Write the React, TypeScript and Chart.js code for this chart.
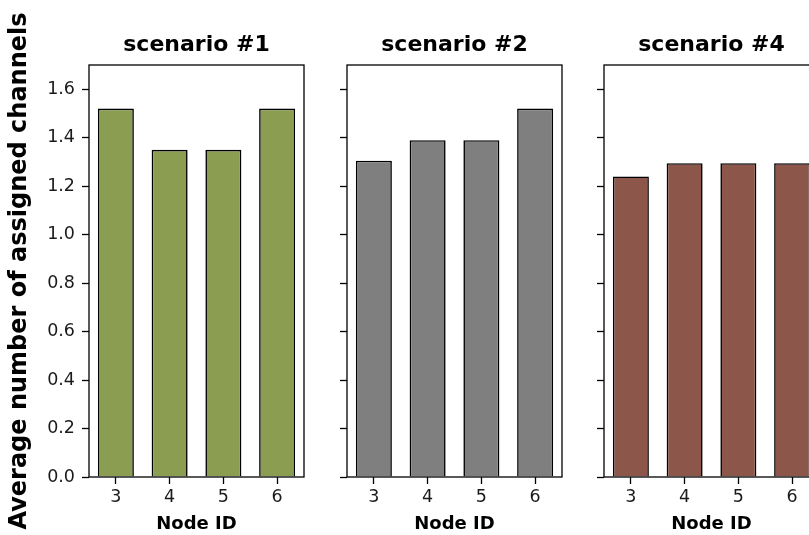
import React, { useEffect, useRef } from "react";
import { Chart, registerables } from "chart.js";

Chart.register(...registerables);

const nodeIds = ["3", "4", "5", "6"];
const scenarioTitles = ["scenario #1", "scenario #2", "scenario #4"];
const scenario1 = [1.52, 1.35, 1.35, 1.52];
const scenario2 = [1.305, 1.39, 1.39, 1.52];
const scenario4 = [1.24, 1.295, 1.295, 1.295];
const barColors = ["#8b9d50", "#7f7f7f", "#8c564b"];
const yMin = 0;
const yMax = 1.7;
const yStep = 0.2;
const yLastTick = 1.6;
const yLabel = "Average number of assigned channels";
const xLabel = "Node ID";

const FONT = "'DejaVu Sans', sans-serif";
const PLOT_TOP = 65;
const PLOT_BOTTOM = 477;
const CANVAS_H = 535;
const FRAME_W = 215;
const FRAME_LEFTS = [89, 347, 604];
const TITLE_Y = 45;

const framePlugin = {
  id: "frameBox",
  afterDatasetsDraw(chart: any) {
    const { ctx, chartArea } = chart;
    ctx.save();
    ctx.strokeStyle = "#000";
    ctx.lineWidth = 1.3;
    ctx.strokeRect(chartArea.left, chartArea.top, chartArea.right - chartArea.left, chartArea.bottom - chartArea.top);
    ctx.restore();
  },
};

const panelTitlePlugin = {
  id: "panelTitle",
  afterDraw(chart: any, _args: any, opts: any) {
    const { ctx, chartArea } = chart;
    ctx.save();
    ctx.fillStyle = "#000";
    ctx.font = `bold 22px ${FONT}`;
    ctx.textAlign = "center";
    ctx.textBaseline = "middle";
    ctx.fillText(opts.text, (chartArea.left + chartArea.right) / 2, TITLE_Y);
    ctx.restore();
  },
};

function Panel({ idx, values }: { idx: number; values: number[] }) {
  const ref = useRef<HTMLCanvasElement | null>(null);
  const yAxisW = idx === 0 ? FRAME_LEFTS[0] : 20;
  const rightPad = 5;
  const width = yAxisW + FRAME_W + rightPad;
  const left = FRAME_LEFTS[idx] - yAxisW;

  useEffect(() => {
    if (!ref.current) return;
    const chart = new Chart(ref.current, {
      type: "bar",
      data: {
        labels: nodeIds,
        datasets: [
          {
            data: values,
            backgroundColor: barColors[idx],
            borderColor: "#000",
            borderWidth: 1.6,
            barPercentage: 0.67,
            categoryPercentage: 1.0,
          },
        ],
      },
      options: {
        responsive: false,
        animation: false,
        devicePixelRatio: 1,
        layout: { padding: { left: 0, right: rightPad, top: PLOT_TOP, bottom: 0 } },
        plugins: {
          legend: { display: false },
          tooltip: { enabled: false },
          title: { display: false },
          panelTitle: { text: scenarioTitles[idx] },
        } as any,
        scales: {
          x: {
            type: "category",
            offset: true,
            grid: {
              display: true,
              offset: false,
              drawOnChartArea: false,
              drawTicks: true,
              tickLength: 7,
              tickColor: "#000",
              tickWidth: 1.3,
            },
            border: { display: false },
            ticks: {
              color: "#1a1a1a",
              font: { family: FONT, size: 17.5 },
              padding: 3,
              maxRotation: 0,
            },
            title: {
              display: true,
              text: xLabel,
              color: "#000",
              font: { family: FONT, size: 18, weight: "bold" },
              padding: { top: 0, bottom: 0 },
            },
            afterFit: (scale: any) => {
              scale.height = CANVAS_H - PLOT_BOTTOM;
            },
          },
          y: {
            type: "linear",
            min: yMin,
            max: yMax,
            grid: {
              display: true,
              drawOnChartArea: false,
              drawTicks: true,
              tickLength: 7,
              tickColor: "#000",
              tickWidth: 1.3,
            },
            border: { display: false },
            ticks: {
              display: idx === 0,
              stepSize: yStep,
              color: "#1a1a1a",
              font: { family: FONT, size: 17.5 },
              padding: 7,
              callback: (v: any) => Number(v).toFixed(1),
            },
            title: {
              display: idx === 0,
              text: yLabel,
              color: "#000",
              font: { family: FONT, size: 24, weight: "bold" },
              padding: { top: 5, bottom: 0 },
            },
            afterBuildTicks: (scale: any) => {
              scale.ticks = scale.ticks.filter((t: any) => t.value <= yLastTick + 1e-9);
            },
            afterFit: (scale: any) => {
              scale.width = yAxisW;
            },
          },
        },
      },
      plugins: [framePlugin, panelTitlePlugin],
    });
    return () => chart.destroy();
  }, []);

  return (
    <canvas
      ref={ref}
      width={width}
      height={CANVAS_H}
      style={{ position: "absolute", left, top: 0, width, height: CANVAS_H }}
    />
  );
}

export default function App() {
  const all = [scenario1, scenario2, scenario4];
  return (
    <div
      style={{
        position: "fixed",
        left: 0,
        top: 0,
        width: 809,
        height: 535,
        overflow: "hidden",
        background: "#fff",
      }}
    >
      {all.map((vals, i) => (
        <Panel key={i} idx={i} values={vals} />
      ))}
    </div>
  );
}
